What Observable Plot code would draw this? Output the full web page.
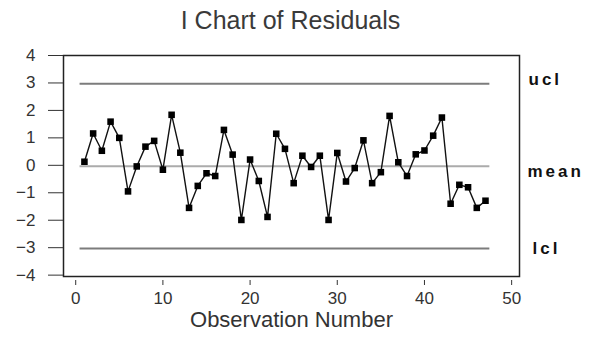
<!DOCTYPE html>
<html>
<head>
<meta charset="utf-8">
<script src="https://cdn.jsdelivr.net/npm/d3@7"></script>
<script src="https://cdn.jsdelivr.net/npm/@observablehq/plot@0.6"></script>
<style>
  html, body { margin: 0; padding: 0; background: #fff; }
  #chart { width: 590px; height: 340px; overflow: hidden; }
  .title {
    height: 40px; box-sizing: border-box; padding-top: 8px; padding-right: 9px;
    font: 25px "Liberation Sans", Arial, sans-serif; line-height: 25px;
    color: #3a3a3a; text-align: center;
  }
</style>
</head>
<body>
<div id="chart"></div>
<script>
// Individual residuals, one per observation
const observation = d3.range(1, 48);
const residual = [
  0.13, 1.16, 0.53, 1.59, 1.00, -0.95, -0.04, 0.68, 0.89, -0.16,
  1.84, 0.46, -1.55, -0.75, -0.29, -0.39, 1.29, 0.39, -1.99, 0.21,
  -0.57, -1.88, 1.15, 0.60, -0.65, 0.35, -0.06, 0.35, -1.99, 0.45,
  -0.59, -0.10, 0.91, -0.65, -0.25, 1.80, 0.11, -0.39, 0.40, 0.54,
  1.08, 1.74, -1.40, -0.71, -0.80, -1.55, -1.29
];

// Control limits
const limitNames = ["ucl", "mean", "lcl"];
const limitValues = [2.97, -0.03, -3.03];

// Axis ticks
const xTicks = [0, 10, 20, 30, 40, 50];
const yTicks = [-4, -3, -2, -1, 0, 1, 2, 3, 4];

const points = observation.map((o, i) => ({obs: o, res: residual[i]}));
const first = observation[0], last = observation[observation.length - 1];
const limits = limitNames.map((name, i) => ({name, value: limitValues[i]}));

// Line styling and label nudges for each limit
const limitStyle = {
  ucl:  {stroke: "#7c7c7c", dx: 9,  dy: -4},
  mean: {stroke: "#ababab", dx: 8,  dy: 5},
  lcl:  {stroke: "#7c7c7c", dx: 13, dy: 0}
};

const title = document.createElement("div");
title.className = "title";
title.textContent = "I Chart of Residuals";

const plot = Plot.plot({
  width: 590,
  height: 300,
  marginTop: 15,
  marginBottom: 64,
  marginLeft: 63,
  marginRight: 71,
  style: {fontFamily: "'Liberation Sans', Arial, sans-serif", background: "#fff", color: "#333"},
  x: {domain: [-1.4, 50.9]},
  y: {domain: [-4.05, 4]},
  marks: [
    // control lines span the observations
    ...limits.map(l => Plot.ruleY([l], {
      y: "value", x1: first - 0.5, x2: last + 0.5,
      stroke: limitStyle[l.name].stroke, strokeWidth: 2
    })),
    ...limits.map(l => Plot.text([l], {
      y: "value", text: "name", frameAnchor: "right", textAnchor: "start",
      dx: limitStyle[l.name].dx, dy: limitStyle[l.name].dy,
      fontSize: 17, fontWeight: "bold", fill: "#111"
    })),
    Plot.line(points, {x: "obs", y: "res", stroke: "#111", strokeWidth: 1.4}),
    Plot.dot(points, {x: "obs", y: "res", symbol: "square", r: 3.7, fill: "#000", stroke: "none"}),
    Plot.frame({stroke: "#222", strokeWidth: 1.5}),
    Plot.axisY({ticks: yTicks, tickSize: 15, tickPadding: 13, label: null, stroke: "#333"}),
    Plot.axisX({ticks: xTicks, tickSize: 5, dy: 4, tickPadding: 6, label: null, stroke: "#333"}),
    Plot.text(["Observation Number"], {
      text: d => d, frameAnchor: "bottom", dy: 50, fontSize: 22, fill: "#333"
    })
  ]
});

// Larger tick labels and spaced-out limit labels
const svg = d3.select(plot);
svg.selectAll("text")
  .filter(function() { return /^-?\d+$/.test(this.textContent.replace("\u2212", "-")); })
  .style("font-size", "17px");
svg.selectAll("text")
  .filter(function() { return limitNames.includes(this.textContent); })
  .style("letter-spacing", "3px");

const chart = document.getElementById("chart");
chart.appendChild(title);
chart.appendChild(plot);
</script>
</body>
</html>
